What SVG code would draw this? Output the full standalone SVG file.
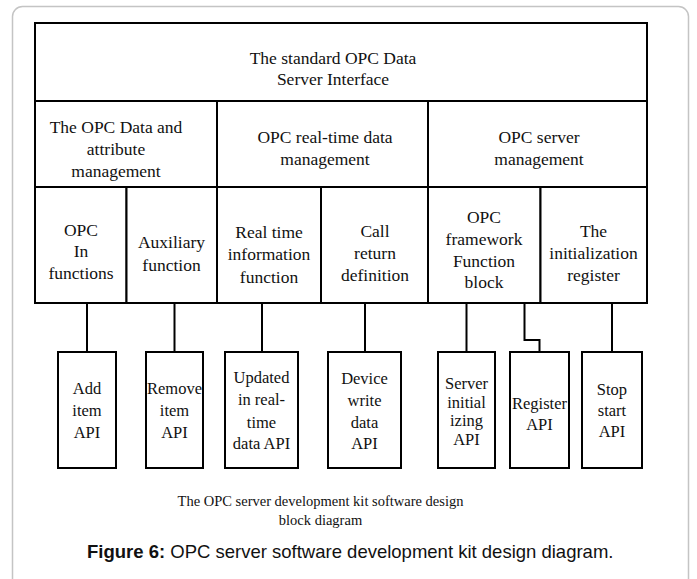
<svg xmlns="http://www.w3.org/2000/svg" width="697" height="579" viewBox="0 0 697 579">
  <style>
    .cell { fill: #ffffff; stroke: #000000; stroke-width: 2; }
    .api { fill: #ffffff; stroke: #000000; stroke-width: 2; }
    .wire { fill: none; stroke: #000000; stroke-width: 2; }
    .t { font-family: "Liberation Serif", "Times New Roman", serif; font-size: 17.5px; fill: #111111; text-anchor: middle; }
    .s { font-family: "Liberation Serif", "Times New Roman", serif; font-size: 16.5px; fill: #111111; text-anchor: middle; }
    .note { font-family: "Liberation Serif", "Times New Roman", serif; font-size: 14.5px; fill: #111111; text-anchor: middle; }
    .cap { font-family: "Liberation Sans", Arial, sans-serif; font-size: 18.5px; fill: #111111; }
  </style>

  <!-- page frame -->
  <rect x="12.5" y="6.5" width="676" height="620" rx="10" ry="10" fill="#ffffff" stroke="#c4c4c4" stroke-width="1.5"/>

  <!-- interface layer -->
  <g id="std-interface">
    <rect class="cell" x="35" y="23" width="612" height="78"/>
    <text class="t" x="333" y="63.5">The standard OPC Data</text>
    <text class="t" x="333" y="84.5">Server Interface</text>
  </g>

  <!-- management layer -->
  <g id="data-attr-mgmt">
    <rect class="cell" x="35" y="101" width="182" height="86"/>
    <text class="t" x="116" y="133">The OPC Data and</text>
    <text class="t" x="116" y="155">attribute</text>
    <text class="t" x="116" y="177">management</text>
  </g>
  <g id="realtime-mgmt">
    <rect class="cell" x="217" y="101" width="211" height="86"/>
    <text class="t" x="325" y="143">OPC real-time data</text>
    <text class="t" x="325" y="165">management</text>
  </g>
  <g id="server-mgmt">
    <rect class="cell" x="428" y="101" width="219" height="86"/>
    <text class="t" x="539" y="143">OPC server</text>
    <text class="t" x="539" y="165">management</text>
  </g>

  <!-- function layer -->
  <g id="opc-in">
    <rect class="cell" x="35" y="187" width="91.5" height="116"/>
    <text class="t" x="81" y="236">OPC</text>
    <text class="t" x="81" y="257">In</text>
    <text class="t" x="81" y="279">functions</text>
  </g>
  <g id="auxiliary">
    <rect class="cell" x="126.5" y="187" width="90.5" height="116"/>
    <text class="t" x="171.5" y="248">Auxiliary</text>
    <text class="t" x="171.5" y="271">function</text>
  </g>
  <g id="realtime-info">
    <rect class="cell" x="217" y="187" width="104" height="116"/>
    <text class="t" x="269" y="238">Real time</text>
    <text class="t" x="269" y="260">information</text>
    <text class="t" x="269" y="283">function</text>
  </g>
  <g id="call-return">
    <rect class="cell" x="321" y="187" width="107" height="116"/>
    <text class="t" x="375" y="237">Call</text>
    <text class="t" x="375" y="259">return</text>
    <text class="t" x="375" y="281">definition</text>
  </g>
  <g id="framework-block">
    <rect class="cell" x="428" y="187" width="112.5" height="116"/>
    <text class="t" x="484" y="223">OPC</text>
    <text class="t" x="484" y="245">framework</text>
    <text class="t" x="484" y="267">Function</text>
    <text class="t" x="484" y="288">block</text>
  </g>
  <g id="init-register">
    <rect class="cell" x="540.5" y="187" width="106.5" height="116"/>
    <text class="t" x="593.5" y="237">The</text>
    <text class="t" x="593.5" y="259">initialization</text>
    <text class="t" x="593.5" y="281">register</text>
  </g>

  <!-- links from functions down to API blocks -->
  <g id="connectors">
    <line class="wire" x1="87" y1="303" x2="87" y2="352"/>
    <line class="wire" x1="174.5" y1="303" x2="174.5" y2="352"/>
    <line class="wire" x1="262" y1="303" x2="262" y2="352"/>
    <line class="wire" x1="365" y1="303" x2="365" y2="352"/>
    <line class="wire" x1="466.5" y1="303" x2="466.5" y2="352"/>
    <polyline class="wire" points="524.5,303 524.5,340 539.5,340 539.5,352"/>
    <line class="wire" x1="612" y1="303" x2="612" y2="352"/>
  </g>

  <!-- API blocks -->
  <g id="add-item-api">
    <rect class="api" x="58" y="352" width="58" height="116"/>
    <text class="s" x="87" y="394">Add</text>
    <text class="s" x="87" y="416">item</text>
    <text class="s" x="87" y="438">API</text>
  </g>
  <g id="remove-item-api">
    <rect class="api" x="146" y="352" width="57" height="116"/>
    <text class="s" x="174.5" y="394">Remove</text>
    <text class="s" x="174.5" y="416">item</text>
    <text class="s" x="174.5" y="438">API</text>
  </g>
  <g id="update-api">
    <rect class="api" x="225" y="352" width="73" height="116"/>
    <text class="s" x="261.5" y="383">Updated</text>
    <text class="s" x="261.5" y="405">in real-</text>
    <text class="s" x="261.5" y="428">time</text>
    <text class="s" x="261.5" y="449">data API</text>
  </g>
  <g id="device-write-api">
    <rect class="api" x="328" y="352" width="73" height="116"/>
    <text class="s" x="364.5" y="384">Device</text>
    <text class="s" x="364.5" y="406">write</text>
    <text class="s" x="364.5" y="428">data</text>
    <text class="s" x="364.5" y="449">API</text>
  </g>
  <g id="server-init-api">
    <rect class="api" x="438" y="352" width="57" height="116"/>
    <text class="s" x="466.5" y="389">Server</text>
    <text class="s" x="466.5" y="408">initial</text>
    <text class="s" x="466.5" y="426">izing</text>
    <text class="s" x="466.5" y="445">API</text>
  </g>
  <g id="register-api">
    <rect class="api" x="510" y="352" width="59" height="116"/>
    <text class="s" x="539.5" y="409">Register</text>
    <text class="s" x="539.5" y="430">API</text>
  </g>
  <g id="stop-start-api">
    <rect class="api" x="582" y="352" width="60" height="116"/>
    <text class="s" x="612" y="395">Stop</text>
    <text class="s" x="612" y="416">start</text>
    <text class="s" x="612" y="437">API</text>
  </g>

  <!-- diagram title -->
  <text class="note" x="320.5" y="505.5">The OPC server development kit software design</text>
  <text class="note" x="320.5" y="525">block diagram</text>

  <!-- figure caption -->
  <text class="cap" x="87" y="557.5"><tspan font-weight="bold">Figure 6:</tspan> OPC server software development kit design diagram.</text>
</svg>
